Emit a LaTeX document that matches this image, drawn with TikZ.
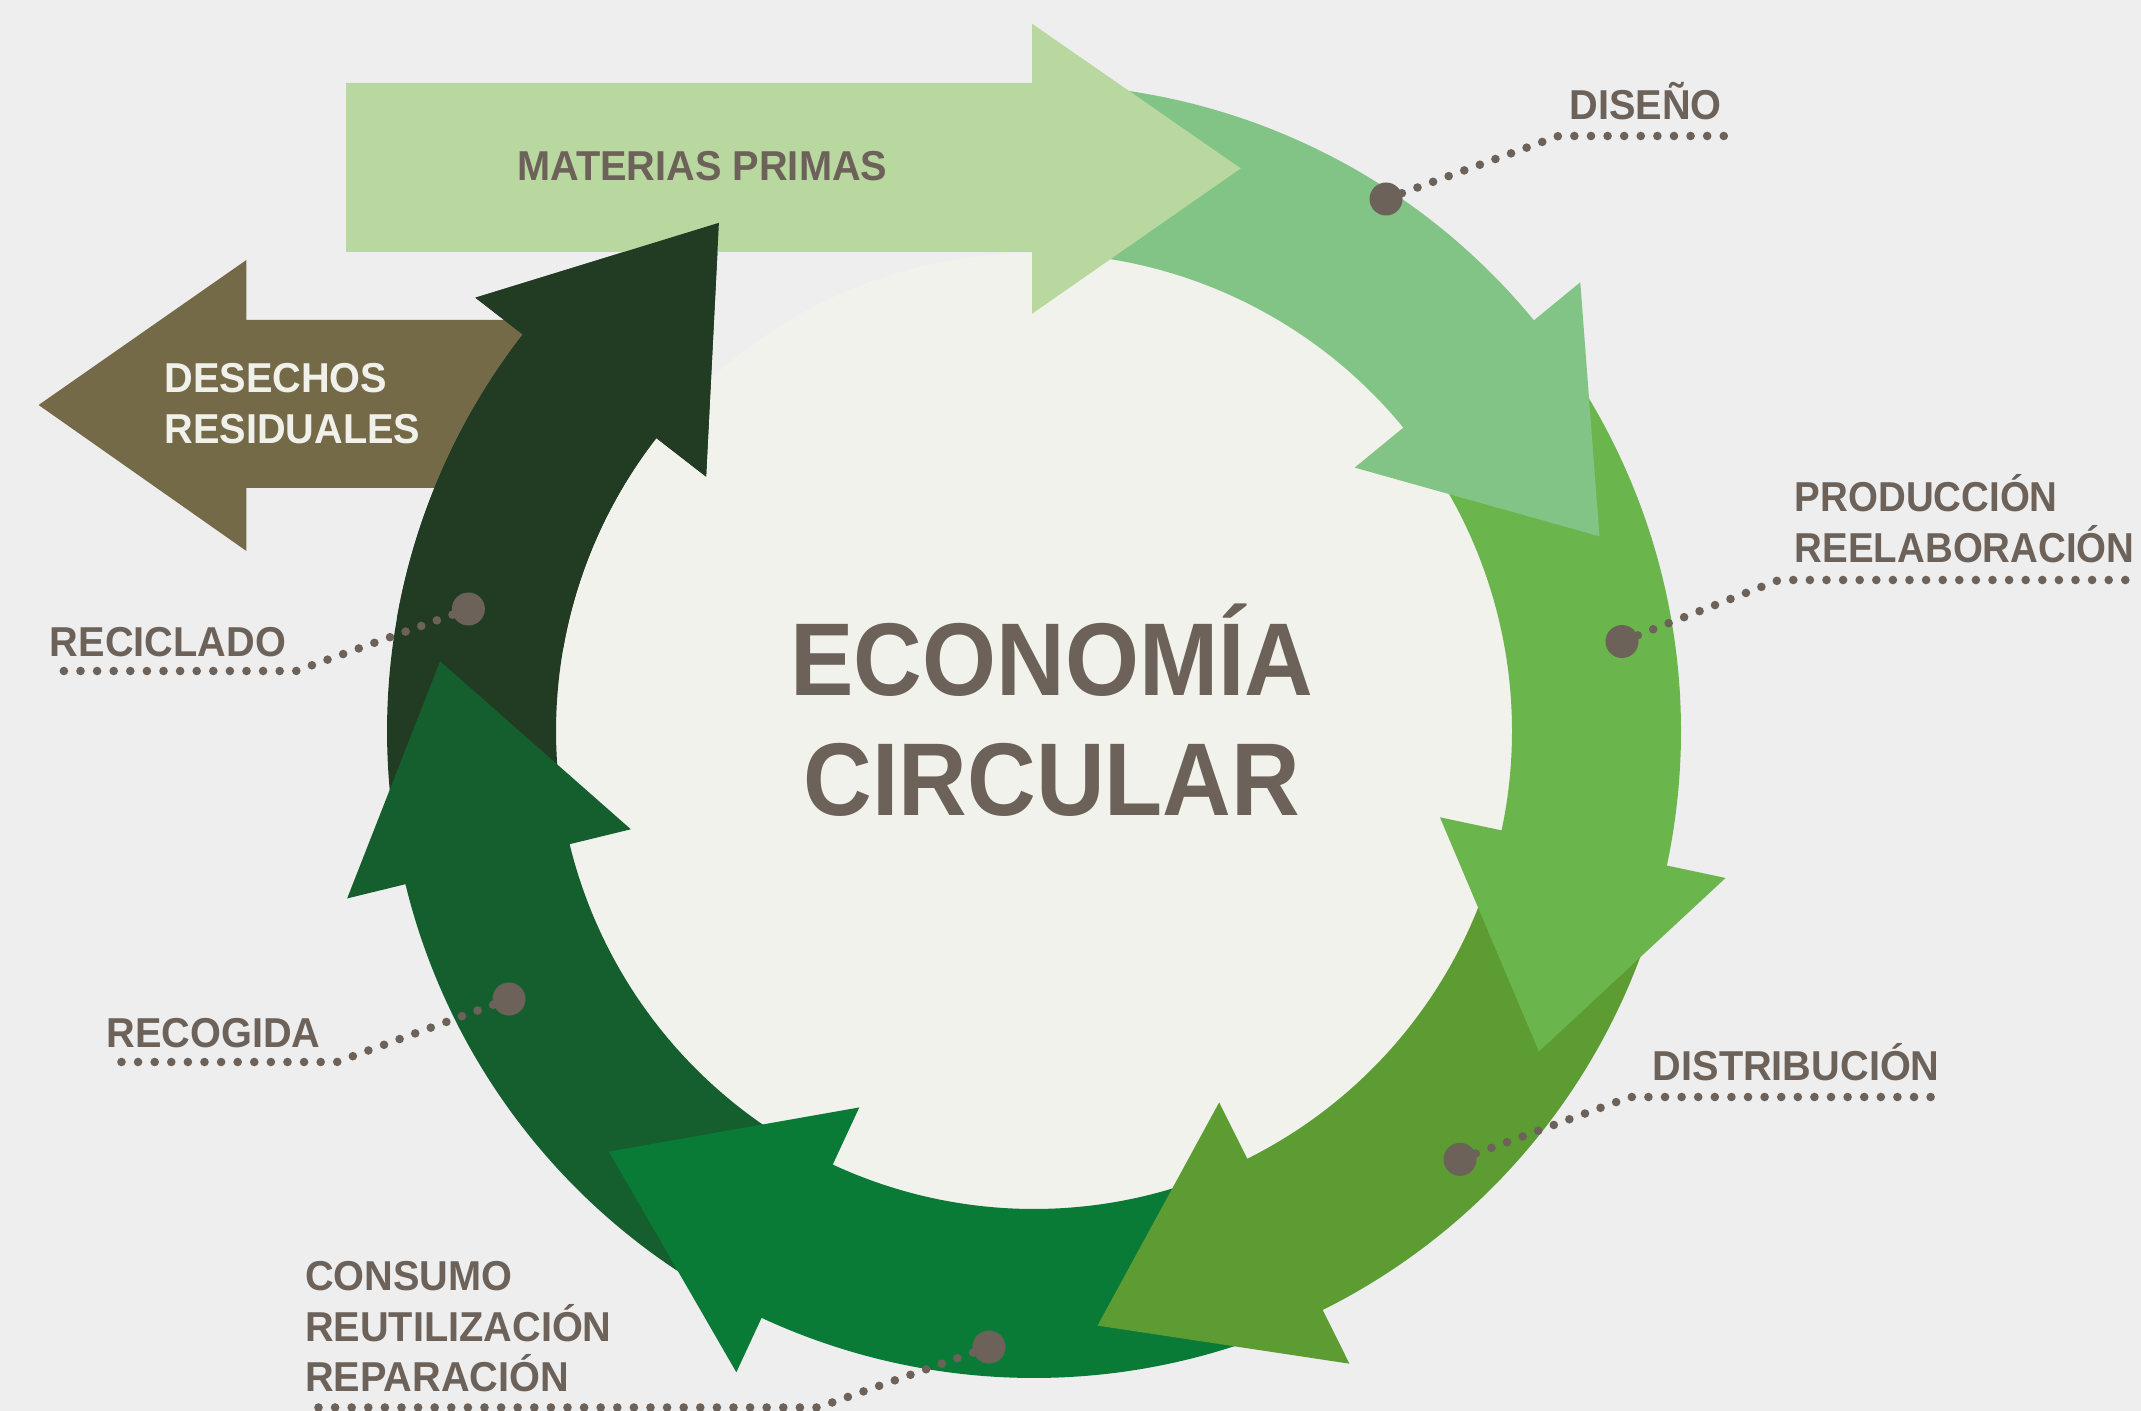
\documentclass[tikz,border=0pt]{standalone}
\usepackage{fontspec}
\setmainfont{Liberation Sans}
\newfontfamily\labelfont{Liberation Sans}[FakeStretch=0.95]
\newfontfamily\titlefont{Liberation Sans}[FakeStretch=0.92]
\usepackage{tikz}

\definecolor{bgpaper}{HTML}{EEEEEF}
\definecolor{innerpaper}{HTML}{F1F2EC}
\definecolor{materias}{HTML}{B8D8A0}
\definecolor{diseno}{HTML}{82C486}
\definecolor{produccion}{HTML}{6AB54C}
\definecolor{distribucion}{HTML}{5C9C33}
\definecolor{consumo}{HTML}{0A7B37}
\definecolor{recogida}{HTML}{155F2E}
\definecolor{reciclado}{HTML}{223B23}
\definecolor{desechos}{HTML}{756A48}
\definecolor{labelgray}{HTML}{6C6259}
\definecolor{labellight}{HTML}{F1F1EB}

\tikzset{
  lbl/.style={inner sep=0pt, text=labelgray, align=left, font=\labelfont\fontsize{20.9pt}{25.3pt}\selectfont\bfseries},
  bigdot/.style={circle, fill=labelgray, inner sep=0pt, minimum size=16.5pt},
  dotline/.style={labelgray, line width=4.3pt, line cap=round, dash pattern=on 0pt off 8.3pt},
}

% ring band with a triangular head: colour, start angle, head angle
\newcommand{\ringarrow}[3]{%
  \fill[#1] (#2:647) arc[start angle=#2, end angle=#3, radius=647] -- (#3:707) -- ({#3+20.4}:598) -- (#3:415) -- (#3:478) arc[start angle=#3, end angle=#2, radius=478] -- cycle;}

\begin{document}
\begin{tikzpicture}[x=0.5pt,y=0.5pt,yscale=-1,xscale=1]
\useasboundingbox (0,0) rectangle (2141,1411);
\fill[bgpaper] (0,0) rectangle (2141,1411);

%Shape: Arrow [desechos residuales]
\fill[desechos] (580,320) -- (246.4,320) -- (246.4,260) -- (38.6,405) -- (246.4,551) -- (246.4,488) -- (580,488) -- cycle;

%Shape: Circle + ring arrows
\begin{scope}[shift={(1034,731)}]
\fill[innerpaper] (0,0) circle[radius=478];
\ringarrow{reciclado}{166.3}{217.8}
\ringarrow{recogida}{114.9}{166.3}
\ringarrow{consumo}{63.5}{114.9}
\ringarrow{distribucion}{12.0}{63.5}
\ringarrow{produccion}{-39.4}{12.0}
\ringarrow{diseno}{-90}{-39.4}
\end{scope}

%Shape: Arrow [materias primas]
\fill[materias] (346,83) -- (1032,83) -- (1032,23.7) -- (1240.7,168.4) -- (1032,313.8) -- (1032,252) -- (346,252) -- cycle;

%Shape: head of reciclado over materias primas
\begin{scope}[shift={(1034,731)}]
\ringarrow{reciclado}{190}{217.8}
\end{scope}

% Dots and dotted leaders
\node[bigdot] (dotdiseno) at (1386,199) {};
\coordinate (kdiseno) at (1558.5,136);
\coordinate (ediseno) at (1724,136);
\draw[dotline] (dotdiseno) -- (kdiseno) -- (ediseno);

\node[bigdot] (dotproduccion) at (1622,641.5) {};
\coordinate (kproduccion) at (1779,580);
\coordinate (eproduccion) at (2141,580);
\draw[dotline] (dotproduccion) -- (kproduccion) -- (eproduccion);

\node[bigdot] (dotdistribucion) at (1460,1159.4) {};
\coordinate (kdistribucion) at (1630,1097);
\coordinate (edistribucion) at (1941,1097);
\draw[dotline] (dotdistribucion) -- (kdistribucion) -- (edistribucion);

\node[bigdot] (dotconsumo) at (989,1347) {};
\coordinate (kconsumo) at (818,1407.5);
\coordinate (econsumo) at (305,1407.5);
\draw[dotline] (dotconsumo) -- (kconsumo) -- (econsumo);

\node[bigdot] (dotrecogida) at (509,999) {};
\coordinate (krecogida) at (337,1062);
\coordinate (erecogida) at (110,1062);
\draw[dotline] (dotrecogida) -- (krecogida) -- (erecogida);

\node[bigdot] (dotreciclado) at (468.4,609) {};
\coordinate (kreciclado) at (296,671);
\coordinate (ereciclado) at (49.5,671);
\draw[dotline] (dotreciclado) -- (kreciclado) -- (ereciclado);

% Text Node
\node[lbl, anchor=base west] (materiaslbl) at (517,181) {MATERIAS PRIMAS};
% Text Node
\node[lbl, text=labellight, anchor=base west] (desechoslbl) at (164,443.3) {DESECHOS\\RESIDUALES};
% Text Node
\node[lbl, anchor=base east] (disenolbl) at (1722,120) {DISEÑO};
% Text Node
\node[lbl, anchor=base west, font=\titlefont\fontsize{20.9pt}{25.3pt}\selectfont\bfseries] (produccionlbl) at (1794.5,562.5) {PRODUCCIÓN\\REELABORACIÓN};
% Text Node
\node[lbl, anchor=base east] (distribucionlbl) at (1940,1080) {DISTRIBUCIÓN};
% Text Node
\node[lbl, anchor=base west] (consumolbl) at (304.6,1391.8) {CONSUMO\\REUTILIZACIÓN\\REPARACIÓN};
% Text Node
\node[lbl, anchor=base west] (recogidalbl) at (106,1047) {RECOGIDA};
% Text Node
\node[lbl, anchor=base west] (recicladolbl) at (49.5,656) {RECICLADO};
% Text Node
\node[inner sep=0pt, text=labelgray, align=center, anchor=base, font=\titlefont\fontsize{51.7pt}{59.6pt}\selectfont\bfseries] (titulo) at (1052,815) {ECONOMÍA\\CIRCULAR};

\end{tikzpicture}
\end{document}
